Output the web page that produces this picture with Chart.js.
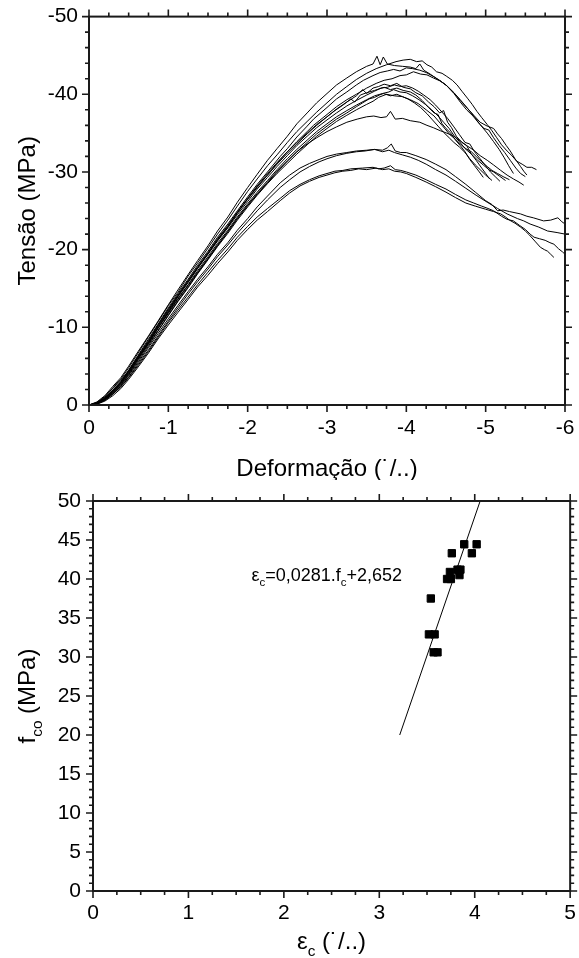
<!DOCTYPE html>
<html><head><meta charset="utf-8">
<script src="https://cdn.jsdelivr.net/npm/chart.js@4.4.0/dist/chart.umd.min.js"></script>
<style>
html,body{margin:0;padding:0;background:#fff;}
#wrap{position:relative;width:579px;height:958px;}
.box{position:absolute;left:0;width:579px;}
#b1{top:0;height:480px;}
#b2{top:480px;height:478px;}
</style></head><body>
<div id="wrap"><div class="box" id="b1"><canvas id="c1"></canvas></div><div class="box" id="b2"><canvas id="c2"></canvas></div></div>
<script>
// ---------- Top chart: stress-strain curves [strain (‰), stress (MPa)] ----------
const curve01 = [[0,0],[-0.1,-0.3],[-0.2,-1.1],[-0.3,-2.1],[-0.4,-3.3],[-0.5,-4.8],[-0.62,-6.7],[-0.75,-8.8],[-0.87,-10.7],[-1.0,-12.8],[-1.12,-14.5],[-1.25,-16.6],[-1.37,-18.3],[-1.5,-20.2],[-1.62,-22.0],[-1.75,-23.8],[-1.87,-25.6],[-2.0,-27.5],[-2.12,-29.1],[-2.25,-30.8],[-2.37,-32.2],[-2.5,-33.8],[-2.62,-35.2],[-2.75,-36.5],[-2.87,-37.7],[-3.0,-38.9],[-3.12,-40.0],[-3.25,-41.0],[-3.37,-41.9],[-3.5,-42.7],[-3.62,-43.3],[-3.75,-43.8],[-3.87,-44.2],[-3.96,-44.4],[-4.05,-44.5],[-4.13,-44.2],[-4.2,-44.3],[-4.26,-43.8],[-4.32,-43.5],[-4.38,-42.9],[-4.45,-42.7],[-4.51,-42.3],[-4.58,-41.8],[-4.64,-41.2],[-4.7,-40.4],[-4.77,-39.5],[-4.83,-38.7],[-4.89,-37.8],[-4.95,-37.0],[-5.02,-36.1],[-5.08,-35.3],[-5.14,-34.4],[-5.2,-33.5],[-5.27,-32.7],[-5.33,-32.1],[-5.39,-31.4],[-5.46,-31.0],[-5.52,-30.6],[-5.58,-30.6],[-5.64,-30.3]];
const curve02 = [[0,0],[-0.1,-0.4],[-0.2,-1.2],[-0.3,-2.4],[-0.4,-3.5],[-0.5,-5.0],[-0.62,-6.9],[-0.75,-8.9],[-0.87,-10.8],[-1.0,-12.9],[-1.12,-14.8],[-1.25,-16.8],[-1.37,-18.6],[-1.5,-20.5],[-1.62,-22.4],[-1.75,-24.2],[-1.87,-26.1],[-2.0,-28.0],[-2.12,-29.7],[-2.25,-31.5],[-2.37,-33.0],[-2.5,-34.6],[-2.62,-36.2],[-2.75,-37.6],[-2.87,-38.9],[-3.0,-40.1],[-3.12,-41.2],[-3.25,-42.1],[-3.37,-42.9],[-3.5,-43.6],[-3.58,-43.9],[-3.63,-44.9],[-3.67,-43.8],[-3.71,-44.8],[-3.76,-43.9],[-3.85,-43.7],[-3.95,-43.6],[-4.05,-43.5],[-4.12,-43.3],[-4.17,-43.9],[-4.22,-43.1],[-4.3,-42.6],[-4.4,-41.9],[-4.5,-41.2],[-4.6,-40.1],[-4.68,-39.0],[-4.76,-38.0],[-4.84,-37.2],[-4.92,-36.2],[-4.98,-35.6],[-5.04,-35.4],[-5.1,-34.4],[-5.17,-33.4],[-5.24,-32.5],[-5.31,-31.5],[-5.38,-30.5],[-5.44,-29.8],[-5.5,-29.4]];
const curve03 = [[0,0],[-0.1,-0.2],[-0.2,-0.9],[-0.3,-1.9],[-0.4,-3.0],[-0.5,-4.5],[-0.62,-6.4],[-0.75,-8.5],[-0.87,-10.4],[-1.0,-12.5],[-1.12,-14.3],[-1.25,-16.2],[-1.37,-18.0],[-1.5,-19.8],[-1.62,-21.6],[-1.75,-23.3],[-1.87,-25.0],[-2.0,-26.8],[-2.12,-28.4],[-2.25,-30.0],[-2.41,-32.0],[-2.5,-33.0],[-2.62,-34.5],[-2.75,-35.9],[-2.83,-36.8],[-3.0,-38.3],[-3.12,-39.4],[-3.25,-40.3],[-3.37,-41.2],[-3.46,-41.8],[-3.58,-42.4],[-3.67,-42.8],[-3.76,-43.0],[-3.84,-43.2],[-3.92,-43.0],[-4.0,-43.4],[-4.08,-43.3],[-4.17,-43.1],[-4.25,-42.8],[-4.34,-42.3],[-4.42,-41.8],[-4.51,-41.1],[-4.6,-40.2],[-4.68,-39.2],[-4.77,-38.2],[-4.85,-37.3],[-4.93,-36.4],[-5.02,-35.9],[-5.1,-35.6],[-5.15,-34.9],[-5.2,-34.3],[-5.26,-33.4],[-5.31,-32.7],[-5.37,-31.7],[-5.44,-30.7],[-5.48,-30.1],[-5.52,-29.6]];
const curve04 = [[0,0],[-0.1,-0.2],[-0.2,-0.8],[-0.3,-1.8],[-0.4,-2.9],[-0.5,-4.4],[-0.62,-6.3],[-0.75,-8.3],[-0.87,-10.3],[-1.0,-12.3],[-1.12,-14.1],[-1.25,-16.0],[-1.37,-17.8],[-1.5,-19.6],[-1.62,-21.4],[-1.75,-23.1],[-1.87,-24.8],[-2.0,-26.5],[-2.12,-28.1],[-2.25,-29.6],[-2.41,-31.6],[-2.5,-32.6],[-2.62,-33.9],[-2.75,-35.2],[-2.83,-36.0],[-3.0,-37.4],[-3.12,-38.4],[-3.25,-39.3],[-3.37,-40.0],[-3.5,-40.8],[-3.62,-41.4],[-3.72,-41.8],[-3.82,-42.0],[-3.92,-42.4],[-4.0,-42.5],[-4.09,-42.9],[-4.18,-42.6],[-4.26,-42.5],[-4.34,-42.1],[-4.43,-41.7],[-4.51,-41.1],[-4.6,-40.2],[-4.68,-39.3],[-4.77,-38.2],[-4.85,-37.2],[-4.93,-36.1],[-5.02,-35.0],[-5.1,-33.9],[-5.17,-32.9],[-5.23,-31.9],[-5.29,-30.8],[-5.35,-29.8]];
const curve05 = [[0,0],[-0.1,-0.3],[-0.2,-1.0],[-0.3,-2.2],[-0.35,-2.8],[-0.4,-3.2],[-0.5,-4.4],[-0.62,-6.2],[-0.75,-8.2],[-0.87,-10.2],[-1.0,-12.3],[-1.12,-14.1],[-1.25,-16.0],[-1.37,-17.7],[-1.5,-19.5],[-1.62,-21.2],[-1.75,-22.9],[-1.87,-24.7],[-2.0,-26.5],[-2.12,-28.0],[-2.25,-29.6],[-2.37,-31.0],[-2.5,-32.4],[-2.62,-33.6],[-2.75,-34.9],[-2.87,-36.0],[-3.0,-37.1],[-3.12,-38.1],[-3.25,-39.0],[-3.37,-39.8],[-3.45,-40.6],[-3.5,-40.1],[-3.58,-40.8],[-3.65,-41.0],[-3.72,-41.3],[-3.8,-41.1],[-3.88,-41.4],[-3.96,-40.9],[-4.05,-40.7],[-4.12,-40.2],[-4.2,-39.8],[-4.28,-39.0],[-4.35,-38.4],[-4.42,-37.6],[-4.47,-37.9],[-4.52,-36.4],[-4.57,-35.7],[-4.63,-34.6],[-4.7,-33.8],[-4.76,-33.4],[-4.82,-32.3],[-4.88,-31.5],[-4.95,-30.5],[-5.0,-29.8],[-5.05,-29.1]];
const curve06 = [[0,0],[-0.1,-0.2],[-0.2,-0.8],[-0.3,-1.7],[-0.4,-2.8],[-0.5,-4.2],[-0.62,-6.1],[-0.75,-8.1],[-0.87,-10.1],[-1.0,-12.1],[-1.12,-14.0],[-1.25,-15.8],[-1.37,-17.6],[-1.5,-19.4],[-1.62,-21.1],[-1.75,-22.8],[-1.87,-24.5],[-2.0,-26.2],[-2.12,-27.8],[-2.25,-29.3],[-2.37,-30.7],[-2.5,-32.1],[-2.62,-33.4],[-2.75,-34.6],[-2.87,-35.7],[-3.0,-36.7],[-3.12,-37.6],[-3.25,-38.5],[-3.37,-39.2],[-3.5,-39.9],[-3.6,-40.4],[-3.68,-40.8],[-3.76,-40.9],[-3.85,-41.2],[-3.93,-41.0],[-4.0,-41.1],[-4.08,-40.8],[-4.15,-40.4],[-4.22,-39.9],[-4.3,-39.3],[-4.37,-38.6],[-4.45,-37.7],[-4.52,-36.9],[-4.6,-35.8],[-4.67,-34.8],[-4.74,-33.8],[-4.8,-33.6],[-4.86,-32.6],[-4.93,-31.7],[-5.0,-30.8],[-5.06,-30.0],[-5.12,-29.4],[-5.18,-28.8]];
const curve07 = [[0,0],[-0.1,-0.2],[-0.2,-0.7],[-0.3,-1.6],[-0.4,-2.7],[-0.5,-4.0],[-0.62,-5.9],[-0.75,-7.9],[-0.87,-9.9],[-1.0,-12.0],[-1.12,-13.9],[-1.25,-15.8],[-1.37,-17.6],[-1.5,-19.5],[-1.62,-21.3],[-1.75,-23.0],[-1.87,-24.8],[-2.0,-26.6],[-2.12,-28.2],[-2.25,-29.8],[-2.37,-31.2],[-2.5,-32.6],[-2.62,-33.8],[-2.75,-35.0],[-2.87,-36.1],[-3.0,-37.1],[-3.1,-37.9],[-3.2,-38.6],[-3.3,-39.4],[-3.35,-39.0],[-3.42,-39.9],[-3.5,-40.2],[-3.6,-40.5],[-3.72,-40.9],[-3.8,-40.6],[-3.88,-40.8],[-3.96,-40.5],[-4.05,-40.3],[-4.12,-39.9],[-4.2,-39.2],[-4.28,-38.3],[-4.35,-37.6],[-4.4,-37.4],[-4.45,-36.2],[-4.5,-35.6],[-4.56,-35.0],[-4.62,-34.1],[-4.68,-33.4],[-4.74,-32.6],[-4.8,-31.6],[-4.86,-30.8],[-4.92,-30.0],[-4.97,-29.3]];
const curve08 = [[0,0],[-0.1,-0.3],[-0.2,-0.9],[-0.3,-1.9],[-0.4,-3.0],[-0.5,-4.3],[-0.62,-6.1],[-0.75,-8.0],[-0.87,-9.9],[-1.0,-11.9],[-1.12,-13.7],[-1.25,-15.5],[-1.37,-17.3],[-1.5,-19.1],[-1.62,-20.8],[-1.75,-22.5],[-1.87,-24.2],[-2.0,-25.9],[-2.12,-27.4],[-2.25,-28.9],[-2.37,-30.3],[-2.5,-31.7],[-2.62,-32.9],[-2.75,-34.1],[-2.87,-35.2],[-3.0,-36.2],[-3.12,-37.1],[-3.25,-37.9],[-3.37,-38.6],[-3.5,-39.3],[-3.6,-39.8],[-3.7,-40.1],[-3.78,-40.3],[-3.84,-40.6],[-3.92,-40.3],[-4.0,-40.2],[-4.08,-39.8],[-4.16,-39.3],[-4.24,-38.7],[-4.32,-38.0],[-4.4,-37.2],[-4.47,-36.4],[-4.54,-35.6],[-4.6,-34.7],[-4.67,-33.9],[-4.74,-33.0],[-4.82,-32.3],[-4.9,-31.5],[-4.97,-30.9],[-5.04,-30.3],[-5.1,-30.0],[-5.17,-29.5],[-5.25,-28.9]];
const curve09 = [[0,0],[-0.1,-0.2],[-0.2,-0.8],[-0.3,-1.8],[-0.4,-2.9],[-0.5,-4.3],[-0.62,-6.1],[-0.75,-8.0],[-0.87,-9.9],[-1.0,-11.8],[-1.12,-13.6],[-1.25,-15.4],[-1.37,-17.1],[-1.5,-18.9],[-1.62,-20.6],[-1.75,-22.3],[-1.87,-24.0],[-2.0,-25.7],[-2.12,-27.2],[-2.25,-28.7],[-2.37,-30.1],[-2.5,-31.4],[-2.62,-32.6],[-2.75,-33.8],[-2.87,-34.9],[-3.0,-35.9],[-3.12,-36.8],[-3.25,-37.6],[-3.37,-38.4],[-3.45,-38.9],[-3.53,-39.4],[-3.6,-39.6],[-3.66,-39.9],[-3.71,-40.1],[-3.8,-39.8],[-3.88,-40.0],[-3.95,-39.7],[-4.02,-39.4],[-4.1,-38.9],[-4.18,-38.3],[-4.26,-37.5],[-4.33,-36.7],[-4.4,-35.9],[-4.47,-35.1],[-4.54,-34.4],[-4.6,-33.8],[-4.67,-33.2],[-4.74,-32.5],[-4.8,-31.7],[-4.87,-30.9],[-4.94,-30.2],[-5.0,-29.6],[-5.08,-28.9]];
const curve10 = [[0,0],[-0.1,-0.2],[-0.2,-0.7],[-0.3,-1.6],[-0.4,-2.6],[-0.5,-3.9],[-0.62,-5.7],[-0.75,-7.6],[-0.87,-9.5],[-1.0,-11.5],[-1.12,-13.3],[-1.25,-15.1],[-1.37,-16.9],[-1.5,-18.7],[-1.62,-20.4],[-1.75,-22.1],[-1.87,-23.8],[-2.0,-25.5],[-2.12,-27.0],[-2.25,-28.5],[-2.37,-29.8],[-2.5,-31.1],[-2.62,-32.3],[-2.75,-33.5],[-2.87,-34.6],[-3.0,-35.6],[-3.12,-36.5],[-3.25,-37.3],[-3.37,-38.0],[-3.5,-38.7],[-3.58,-39.1],[-3.65,-39.6],[-3.75,-40.0],[-3.85,-39.8],[-3.95,-39.7],[-4.05,-39.3],[-4.15,-38.8],[-4.25,-38.0],[-4.35,-37.2],[-4.45,-36.0],[-4.55,-34.8],[-4.62,-34.2],[-4.68,-33.6],[-4.75,-33.0],[-4.82,-32.6],[-4.88,-32.0],[-4.95,-31.3],[-5.02,-30.7],[-5.08,-30.2],[-5.15,-29.8],[-5.22,-29.4],[-5.3,-29.0]];
const curve11 = [[0,0],[-0.1,-0.2],[-0.2,-0.8],[-0.3,-1.7],[-0.4,-2.8],[-0.5,-4.1],[-0.62,-5.9],[-0.75,-7.8],[-0.87,-9.6],[-1.0,-11.6],[-1.12,-13.4],[-1.25,-15.2],[-1.37,-17.0],[-1.5,-18.8],[-1.62,-20.5],[-1.75,-22.3],[-1.87,-24.0],[-2.0,-25.7],[-2.12,-27.1],[-2.25,-28.6],[-2.41,-30.4],[-2.5,-31.4],[-2.62,-32.6],[-2.75,-33.6],[-2.87,-34.4],[-3.0,-35.2],[-3.12,-35.8],[-3.25,-36.4],[-3.38,-36.8],[-3.5,-37.1],[-3.59,-37.2],[-3.68,-37.0],[-3.75,-37.1],[-3.8,-37.8],[-3.86,-36.8],[-3.95,-36.9],[-4.05,-36.6],[-4.17,-36.4],[-4.26,-36.0],[-4.34,-35.7],[-4.43,-35.3],[-4.51,-35.0],[-4.6,-34.6],[-4.68,-34.0],[-4.76,-33.4],[-4.85,-32.8],[-4.93,-32.1],[-5.02,-31.5],[-5.1,-30.9],[-5.19,-30.2],[-5.27,-29.6],[-5.35,-29.1],[-5.42,-28.7],[-5.48,-28.3]];
const curve12 = [[0,0],[-0.1,-0.2],[-0.2,-0.7],[-0.3,-1.5],[-0.4,-2.5],[-0.5,-3.8],[-0.62,-5.5],[-0.75,-7.4],[-0.87,-9.2],[-1.0,-11.1],[-1.12,-12.8],[-1.25,-14.6],[-1.37,-16.2],[-1.5,-17.8],[-1.62,-19.4],[-1.75,-20.9],[-1.87,-22.5],[-2.0,-24.0],[-2.12,-25.5],[-2.25,-26.9],[-2.41,-28.6],[-2.53,-29.6],[-2.66,-30.5],[-2.78,-31.1],[-2.9,-31.6],[-3.0,-32.0],[-3.12,-32.3],[-3.25,-32.5],[-3.37,-32.7],[-3.5,-32.8],[-3.6,-32.9],[-3.7,-32.8],[-3.76,-33.1],[-3.81,-33.6],[-3.86,-32.7],[-3.93,-32.5],[-4.0,-32.5],[-4.12,-32.1],[-4.25,-31.6],[-4.37,-31.0],[-4.5,-30.3],[-4.62,-29.4],[-4.75,-28.4],[-4.87,-27.4],[-5.0,-26.3],[-5.08,-25.8],[-5.15,-25.0],[-5.22,-25.1],[-5.3,-24.9],[-5.44,-24.6],[-5.52,-24.3],[-5.6,-24.1],[-5.73,-23.7],[-5.82,-23.8],[-5.91,-24.1],[-5.96,-23.6],[-6.0,-23.3]];
const curve13 = [[0,0],[-0.1,-0.1],[-0.2,-0.6],[-0.3,-1.4],[-0.4,-2.4],[-0.5,-3.6],[-0.62,-5.3],[-0.75,-7.1],[-0.87,-8.9],[-1.0,-10.8],[-1.12,-12.5],[-1.25,-14.3],[-1.37,-15.9],[-1.5,-17.5],[-1.62,-19.1],[-1.75,-20.6],[-1.87,-22.1],[-2.0,-23.6],[-2.12,-25.0],[-2.25,-26.4],[-2.41,-28.0],[-2.53,-29.0],[-2.66,-30.0],[-2.78,-30.7],[-2.9,-31.3],[-3.0,-31.7],[-3.12,-32.1],[-3.25,-32.4],[-3.37,-32.6],[-3.48,-32.7],[-3.6,-32.9],[-3.7,-32.6],[-3.78,-32.8],[-3.85,-32.5],[-3.95,-32.2],[-4.05,-31.9],[-4.15,-31.5],[-4.25,-31.0],[-4.37,-30.3],[-4.5,-29.6],[-4.62,-28.8],[-4.75,-27.9],[-4.88,-27.0],[-5.02,-26.1],[-5.15,-25.3],[-5.27,-24.6],[-5.4,-24.0],[-5.48,-23.7],[-5.56,-23.3],[-5.67,-22.9],[-5.78,-22.4],[-5.9,-22.2],[-6.0,-22.0]];
const curve14 = [[0,0],[-0.1,-0.2],[-0.2,-0.6],[-0.3,-1.4],[-0.4,-2.3],[-0.5,-3.5],[-0.62,-5.1],[-0.75,-6.9],[-0.87,-8.7],[-1.0,-10.6],[-1.12,-12.2],[-1.25,-13.9],[-1.37,-15.5],[-1.5,-17.1],[-1.62,-18.6],[-1.75,-20.1],[-1.87,-21.6],[-2.0,-23.0],[-2.12,-24.2],[-2.25,-25.3],[-2.41,-26.6],[-2.53,-27.6],[-2.66,-28.4],[-2.78,-29.0],[-2.9,-29.5],[-3.0,-29.8],[-3.1,-30.1],[-3.2,-30.2],[-3.3,-30.4],[-3.45,-30.5],[-3.58,-30.6],[-3.65,-30.4],[-3.72,-30.5],[-3.8,-30.8],[-3.86,-30.3],[-3.93,-30.2],[-4.0,-30.0],[-4.12,-29.6],[-4.25,-29.0],[-4.37,-28.4],[-4.5,-27.8],[-4.62,-27.1],[-4.75,-26.4],[-4.85,-26.0],[-4.95,-25.6],[-5.03,-25.3],[-5.1,-25.0],[-5.2,-24.3],[-5.27,-23.9],[-5.35,-23.7],[-5.43,-23.1],[-5.5,-22.6],[-5.56,-22.0],[-5.61,-21.6],[-5.68,-21.4],[-5.75,-21.2],[-5.81,-20.9],[-5.86,-20.7],[-5.92,-20.1],[-5.97,-19.7],[-6.0,-19.4]];
const curve15 = [[0,0],[-0.1,-0.1],[-0.2,-0.5],[-0.3,-1.2],[-0.4,-2.1],[-0.5,-3.3],[-0.62,-4.9],[-0.75,-6.7],[-0.87,-8.5],[-1.0,-10.3],[-1.12,-11.9],[-1.25,-13.6],[-1.37,-15.2],[-1.5,-16.7],[-1.62,-18.2],[-1.75,-19.7],[-1.87,-21.2],[-2.0,-22.6],[-2.12,-23.8],[-2.25,-24.9],[-2.41,-26.3],[-2.53,-27.3],[-2.66,-28.2],[-2.78,-28.8],[-2.9,-29.3],[-3.0,-29.6],[-3.1,-29.9],[-3.2,-30.1],[-3.3,-30.2],[-3.4,-30.4],[-3.5,-30.3],[-3.62,-30.5],[-3.7,-30.3],[-3.78,-30.4],[-3.85,-30.1],[-3.93,-30.0],[-4.0,-29.8],[-4.12,-29.3],[-4.25,-28.7],[-4.37,-28.1],[-4.5,-27.4],[-4.62,-26.7],[-4.75,-26.0],[-4.87,-25.6],[-5.0,-25.2],[-5.1,-24.9],[-5.19,-24.6],[-5.25,-24.2],[-5.3,-23.8],[-5.37,-23.4],[-5.44,-22.9],[-5.5,-22.4],[-5.55,-21.9],[-5.62,-21.1],[-5.69,-20.3],[-5.74,-20.0],[-5.78,-19.8],[-5.82,-19.4],[-5.86,-19.0]];
const stressCurves = [curve01,curve02,curve03,curve04,curve05,curve06,curve07,curve08,curve09,curve10,curve11,curve12,curve13,curve14,curve15];

// ---------- Bottom chart: peak strain vs peak stress ----------
const epsPeak = [3.89, 4.02, 3.76, 3.97, 3.85, 3.82, 3.74, 3.84, 3.71, 3.75, 3.54, 3.52, 3.58, 3.57, 3.61];
const fcoPeak = [44.45, 44.45, 43.3, 43.3, 41.2, 41.2, 40.9, 40.5, 40.0, 40.0, 37.5, 32.9, 32.9, 30.6, 30.6];
const fitLineEps = [3.214, 4.057];
const fitLineF = [20, 50];
const eqAnchor = [1.66, 40.6];

// ---------- Axis settings / labels ----------
const topX = {min: -6, max: 0, major: 1, minor: 0.25};
const topY = {min: -50, max: 0, major: 10, minor: 2};
const botX = {min: 0, max: 5, major: 1, minor: 0.25};
const botY = {min: 0, max: 50, major: 5, minor: 1};
const topXTitle = [{t: 'Deformação (\u02D9/..)'}];
const topYTitle = [{t: 'Tensão (MPa)'}];
const botXTitle = [{t: '\u03B5'}, {t: 'c', sub: true}, {t: ' (\u02D9/..)'}];
const botYTitle = [{t: 'f'}, {t: 'co', sub: true}, {t: ' (MPa)'}];
const eqText = [{t: '\u03B5'}, {t: 'c', sub: true}, {t: '=0,0281.f'}, {t: 'c', sub: true}, {t: '+2,652'}];

const FONT = 'Arial, "Liberation Sans", Helvetica, sans-serif';
const AXIS = '#1a1a1a';
const TICK_SIZE = 21;
const TITLE_SIZE = 24;

function drawRich(ctx, segs, x, y, size, rotate, align) {
  const sub = size * 0.64;
  let total = 0;
  const w = segs.map(s => { ctx.font = (s.sub ? sub : size) + 'px ' + FONT; const m = ctx.measureText(s.t).width; total += m; return m; });
  ctx.save();
  ctx.translate(x, y);
  if (rotate) ctx.rotate(rotate);
  ctx.fillStyle = '#000';
  ctx.textAlign = 'left';
  ctx.textBaseline = 'alphabetic';
  let cx = align === 'left' ? 0 : -total / 2;
  const base = size * 0.36;
  segs.forEach((s, i) => {
    ctx.font = (s.sub ? sub : size) + 'px ' + FONT;
    ctx.fillText(s.t, cx, s.sub ? base + size * 0.3 : base);
    cx += w[i];
  });
  ctx.restore();
}

const frameTicks = {
  id: 'frameTicks',
  afterDraw(chart, args, o) {
    const {ctx, chartArea: a, scales} = chart;
    const xs = scales.x, ys = scales.y;
    ctx.save();
    ctx.strokeStyle = AXIS;
    ctx.lineWidth = 1.6;
    ctx.beginPath();
    const seg = (x1, y1, x2, y2) => { ctx.moveTo(x1, y1); ctx.lineTo(x2, y2); };
    const ticks = (ax, fn) => {
      const n = Math.round((ax.max - ax.min) / ax.minor);
      for (let i = 0; i <= n; i++) {
        const v = ax.min + i * ax.minor;
        const isMajor = Math.abs(v / ax.major - Math.round(v / ax.major)) < 1e-6;
        fn(v, isMajor ? 7 : 4);
      }
    };
    ticks(o.xAx, (v, len) => {
      const px = xs.getPixelForValue(v);
      seg(px, a.bottom, px, a.bottom + len);
      seg(px, a.top, px, a.top - len);
    });
    ticks(o.yAx, (v, len) => {
      const py = ys.getPixelForValue(v);
      seg(a.left, py, a.left - len, py);
      seg(a.right, py, a.right + len, py);
    });
    ctx.stroke();
    ctx.lineWidth = 2;
    ctx.strokeRect(a.left, a.top, a.right - a.left, a.bottom - a.top);
    ctx.restore();
    const midX = (a.left + a.right) / 2, midY = (a.top + a.bottom) / 2;
    drawRich(ctx, o.xTitle, midX, a.bottom + o.xTitleOff, o.titleSize, 0);
    drawRich(ctx, o.yTitle, o.yTitleX, midY, o.titleSize, -Math.PI / 2);
    if (o.eq) {
      drawRich(ctx, o.eq, xs.getPixelForValue(o.eqAt[0]), ys.getPixelForValue(o.eqAt[1]), o.eqSize, 0, 'left');
    }
  }
};

function axisCfg(ax, isX, pad, size) {
  return {
    type: 'linear', min: ax.min, max: ax.max,
    ticks: {stepSize: ax.major, color: '#000', font: {family: FONT, size: TICK_SIZE}, padding: pad, maxRotation: 0, autoSkip: false},
    grid: {display: true, drawOnChartArea: false, drawTicks: true, tickLength: 7, color: 'rgba(0,0,0,0)'},
    border: {display: false},
    afterFit: isX ? (s) => { s.height = size; } : (s) => { s.width = size; }
  };
}

Chart.defaults.font.family = FONT;

const topDatasets = stressCurves.map(c => ({
  data: c, showLine: true, borderColor: '#000', borderWidth: 1, pointRadius: 0, fill: false, tension: 0
}));

const xTop = axisCfg(topX, true, 4, 75); xTop.reverse = true;
const yTop = axisCfg(topY, false, 4, 89); yTop.reverse = true;

new Chart(document.getElementById('c1'), {
  type: 'scatter',
  data: {datasets: topDatasets},
  options: {
    responsive: true, maintainAspectRatio: false, animation: false, devicePixelRatio: 1,
    layout: {padding: {top: 16, right: 14, left: 0, bottom: 0}},
    plugins: {legend: {display: false}, tooltip: {enabled: false},
      frameTicks: {xAx: topX, yAx: topY, xTitle: topXTitle, yTitle: topYTitle, xTitleOff: 62, yTitleX: 26, titleSize: TITLE_SIZE}},
    scales: {x: xTop, y: yTop}
  },
  plugins: [frameTicks]
});

const scatterPts = epsPeak.map((e, i) => ({x: e, y: fcoPeak[i]}));
const fitPts = fitLineEps.map((e, i) => ({x: e, y: fitLineF[i]}));

new Chart(document.getElementById('c2'), {
  type: 'scatter',
  data: {datasets: [
    {data: fitPts, showLine: true, borderColor: '#000', borderWidth: 1, pointRadius: 0, fill: false},
    {data: scatterPts, pointStyle: 'rect', pointRadius: 5.2, backgroundColor: '#000', borderColor: '#000', borderWidth: 1}
  ]},
  options: {
    responsive: true, maintainAspectRatio: false, animation: false, devicePixelRatio: 1,
    layout: {padding: {top: 21, right: 7, left: 0, bottom: 0}},
    plugins: {legend: {display: false}, tooltip: {enabled: false},
      frameTicks: {xAx: botX, yAx: botY, xTitle: botXTitle, yTitle: botYTitle, xTitleOff: 49, yTitleX: 26, titleSize: TITLE_SIZE,
        eq: eqText, eqAt: eqAnchor, eqSize: 18}},
    scales: {x: axisCfg(botX, true, 3, 67), y: axisCfg(botY, false, 5, 93)}
  },
  plugins: [frameTicks]
});
</script></body></html>
